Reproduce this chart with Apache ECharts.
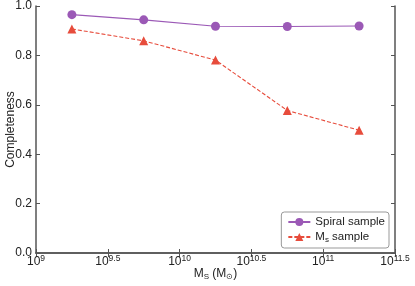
<!DOCTYPE html>
<html><head><meta charset="utf-8">
<script src="https://cdn.jsdelivr.net/npm/echarts@6/dist/echarts.min.js"></script>
<style>html,body{margin:0;padding:0;background:#fff}#c{width:415px;height:286px}</style>
</head><body><div id="c"></div>
<script>
const logMass = [9.25, 9.75, 10.25, 10.75, 11.25];
const spiralSample = [0.965, 0.944, 0.918, 0.917, 0.919];
const msSample = [0.907, 0.859, 0.781, 0.577, 0.497];
const xTickExponents = ['9', '9.5', '10', '10.5', '11', '11.5'];
const yTickLabels = ['0.0', '0.2', '0.4', '0.6', '0.8', '1.0'];

const FONT = 'Liberation Sans, Arial, sans-serif';
const axisColor = '#555';
const purple = '#9b59b6';
const red = '#e74c3c';

const chart = echarts.init(document.getElementById('c'), null, {renderer: 'canvas'});
const frameAxis = {
  axisLine: {show: true, lineStyle: {color: axisColor, width: 1.5}},
  axisTick: {show: true, inside: true, length: 4, lineStyle: {color: axisColor, width: 1}},
  splitLine: {show: false}
};
chart.setOption({
  animation: false,
  backgroundColor: '#fff',
  textStyle: {fontFamily: FONT},
  grid: {left: 36, right: 20, top: 6, bottom: 33, containLabel: false, outerBoundsMode: 'none'},
  legend: {
    orient: 'vertical', right: 26, bottom: 38,
    padding: [4, 4, 4, 6], itemGap: 3, itemWidth: 22, itemHeight: 10,
    borderColor: '#999', borderWidth: 1, borderRadius: 3,
    backgroundColor: '#fff',
    data: ['Spiral sample', 'Ms sample'],
    formatter: n => n === 'Ms sample' ? '{m|M}{sub|s}{m| sample}' : '{m|' + n + '}',
    textStyle: {
      fontFamily: FONT, fontSize: 11.5, color: '#222',
      rich: {
        m: {fontFamily: FONT, fontSize: 11.5, color: '#222', lineHeight: 14},
        sub: {fontFamily: FONT, fontSize: 8, color: '#222', verticalAlign: 'bottom', lineHeight: 14}
      }
    }
  },
  xAxis: [
    Object.assign({
      type: 'value', min: 9, max: 11.5, interval: 0.5, position: 'bottom',
      name: '{m|M}{sub|S}{m| (M}{sub|\u2299}{m|)}',
      nameLocation: 'middle', nameGap: 13, nameMoveOverlap: false,
      nameTextStyle: {
        rich: {
          m: {fontFamily: FONT, fontSize: 12, color: '#222', lineHeight: 15},
          sub: {fontFamily: FONT, fontSize: 8, color: '#222', verticalAlign: 'bottom', lineHeight: 15}
        }
      },
      axisLabel: {
        show: true, margin: 1,
        formatter: (v, i) => {
          const idx = Math.round((v - 9) / 0.5);
          return '{b|10}{s|' + xTickExponents[idx] + '}';
        },
        rich: {
          b: {fontFamily: FONT, fontSize: 12, color: '#222', lineHeight: 14, verticalAlign: 'bottom'},
          s: {fontFamily: FONT, fontSize: 8.5, color: '#222', lineHeight: 14, verticalAlign: 'top'}
        }
      }
    }, frameAxis),
    Object.assign({
      type: 'value', min: 9, max: 11.5, interval: 0.5, position: 'top',
      axisLabel: {show: false}
    }, frameAxis)
  ],
  yAxis: [
    Object.assign({
      type: 'value', min: 0, max: 1, interval: 0.2, position: 'left',
      name: 'Completeness', nameLocation: 'middle', nameGap: 19, nameRotate: 90, nameMoveOverlap: false,
      nameTextStyle: {fontFamily: FONT, fontSize: 12, color: '#222'},
      axisLabel: {
        fontFamily: FONT, fontSize: 12, color: '#222', margin: 4,
        formatter: v => yTickLabels[Math.round(v / 0.2)]
      }
    }, frameAxis),
    Object.assign({
      type: 'value', min: 0, max: 1, interval: 0.2, position: 'right',
      axisLabel: {show: false}
    }, frameAxis)
  ],
  series: [
    {
      name: 'Spiral sample', type: 'line', xAxisIndex: 0, yAxisIndex: 0,
      data: logMass.map((x, i) => [x, spiralSample[i]]),
      symbol: 'circle', symbolSize: 9,
      itemStyle: {color: purple},
      lineStyle: {color: purple, width: 1.2}
    },
    {
      name: 'Ms sample', type: 'line', xAxisIndex: 0, yAxisIndex: 0,
      data: logMass.map((x, i) => [x, msSample[i]]),
      symbol: 'triangle', symbolSize: 9,
      itemStyle: {color: red},
      lineStyle: {color: red, width: 1.1, type: [4, 2]}
    }
  ]
});
</script></body></html>
